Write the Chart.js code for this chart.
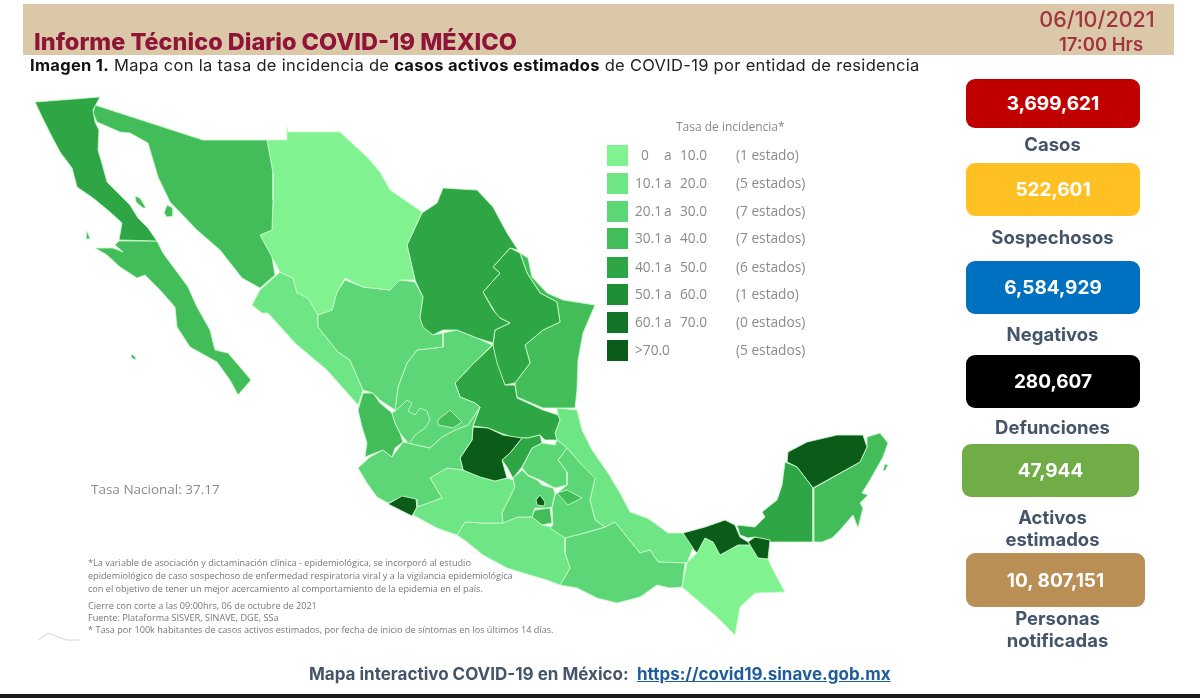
<!DOCTYPE html>
<html lang="es">
<head>
<meta charset="utf-8">
<title>Informe Técnico Diario COVID-19 MÉXICO</title>
<script src="https://cdn.jsdelivr.net/npm/chart.js@4"></script>
<style>
html, body { margin: 0; padding: 0; background: #fff; }
#page { position: relative; width: 1200px; height: 698px; overflow: hidden; font-family: Inter, "Open Sans", sans-serif; }
#page div, #page a { position: absolute; white-space: nowrap; }
#mapWrap { left: 0; top: 0; width: 1200px; height: 698px; filter: blur(0.7px); }
#band { left: 23px; top: 4px; width: 1151px; height: 51px; background: #dbc8a8; }
#title { left: 34px; top: 27px; font-size: 23.5px; font-weight: 800; color: #8f1538; }
#fecha { left: 1037px; top: 6px; width: 120px; text-align: center; font-size: 21.5px; color: #a2343f; font-weight: 500; }
#hora { left: 1039px; top: 33px; width: 124px; text-align: center; font-size: 18.5px; color: #a2343f; font-weight: 600; }
#sub { left: 30px; top: 55px; font-size: 16.5px; letter-spacing: 0.3px; color: #222; }
#sub b { color: #111; }
.card { border-radius: 9px; color: #fff; font-weight: 700; font-size: 19px; text-align: center; display: flex; align-items: center; justify-content: center; }
.cardLabel { font-weight: 700; font-size: 18.5px; line-height: 22px; color: #44546a; text-align: center; }
.leg { font-family: "Open Sans", sans-serif; font-size: 13.7px; color: #8a8a8a; filter: blur(0.4px); }
.sw { width: 21px; height: 21px; filter: blur(0.4px); }
.note { font-family: "Open Sans", sans-serif; font-size: 9.15px; color: #777; filter: blur(0.4px); }
#tasa { left: 91px; top: 480px; font-family: "Open Sans", sans-serif; font-size: 13.5px; color: #8a8a8a; filter: blur(0.4px); }
#pie { left: 309px; top: 664px; font-size: 17px; font-weight: 700; color: #44546a; }
#link { left: 637px; top: 664px; font-size: 17px; font-weight: 700; color: #1f5c99; }
#fondo { left: 0; top: 694px; width: 1200px; height: 4px; background: #1a1a1a; }
</style>
</head>
<body>
<div id="page">
  <div id="band"></div>
  <div id="mapWrap"><canvas id="mapa" width="1200" height="698"></canvas></div>
  <div id="title">Informe Técnico Diario COVID-19 MÉXICO</div>
  <div id="fecha">06/10/2021</div>
  <div id="hora">17:00 Hrs</div>
  <div id="sub"><b>Imagen 1.</b> Mapa con la tasa de incidencia de <b>casos activos estimados</b> de COVID-19 por entidad de residencia</div>
  <div id="tasa">Tasa Nacional: 37.17</div>
  <div id="pie">Mapa interactivo COVID-19 en México:</div>
  <a id="link" href="https://covid19.sinave.gob.mx">https://covid19.sinave.gob.mx</a>
  <div id="fondo"></div>
</div>
<script>
// Legend
const legendTitle = 'Tasa de incidencia*';
const rangeFrom = ['0', '10.1', '20.1', '30.1', '40.1', '50.1', '60.1', '>70.0'];
const rangeTo = ['10.0', '20.0', '30.0', '40.0', '50.0', '60.0', '70.0', ''];
const stateCounts = ['(1 estado)', '(5 estados)', '(7 estados)', '(7 estados)', '(6 estados)', '(1 estado)', '(0 estados)', '(5 estados)'];
const rangeColors = ['#80f290', '#6ee686', '#5cd676', '#42bd5a', '#2fa645', '#1f8f35', '#137425', '#0a5c18'];

// KPI cards
const cardValues = ['3,699,621', '522,601', '6,584,929', '280,607', '47,944', '10, 807,151'];
const cardLabels = ['Casos', 'Sospechosos', 'Negativos', 'Defunciones', 'Activos<br>estimados', 'Personas<br>notificadas'];

const footnotes = [
    '*La variable de asociación y dictaminación clínica - epidemiológica, se incorporó al estudio',
    'epidemiológico de caso sospechoso de enfermedad respiratoria viral y a la vigilancia epidemiológica',
    'con el objetivo de tener un mejor acercamiento al comportamiento de la epidemia en el país.',
    'Cierre con corte a las 09:00hrs, 06 de octubre de 2021',
    'Fuente: Plataforma SISVER, SINAVE, DGE, SSa',
    '* Tasa por 100k habitantes de casos activos estimados, por fecha de inicio de síntomas en los últimos 14 días.'
];

// State outlines
const bajaCalifornia = [[35,102],[100,97],[93,110],[95,122],[99,130],[98,150],[103,167],[107,182],[118,193],[130,205],[138,218],[148,228],[157,241],[119,240],[122,223],[110,212],[93,198],[77,187],[72,168],[60,152],[50,133],[42,117]];
const bajaCaliforniaSur = [[119,241],[157,241],[163,253],[177,272],[188,287],[197,307],[210,330],[215,350],[228,353],[240,367],[251,380],[238,395],[230,380],[217,362],[190,347],[177,327],[175,307],[160,290],[145,275],[137,278],[120,267],[107,255],[95,248],[113,248],[123,252],[115,245]];
const sonora = [[95,105],[203,140],[267,140],[273,173],[273,200],[272,230],[260,235],[272,257],[275,275],[260,288],[242,278],[220,250],[197,230],[170,202],[158,177],[148,143],[130,133],[120,132],[97,122],[93,113]];
const chihuahua = [[287,127],[288,132],[340,132],[367,157],[380,172],[390,190],[422,212],[407,245],[415,280],[400,280],[390,290],[363,287],[345,278],[337,292],[332,310],[318,315],[308,298],[297,293],[293,278],[280,272],[272,257],[260,235],[272,230],[273,200],[273,173],[267,140],[287,140]];
const coahuila = [[443,188],[477,190],[493,207],[507,233],[518,250],[510,248],[493,267],[500,273],[483,292],[493,310],[500,318],[510,323],[495,330],[493,343],[477,338],[457,330],[443,330],[433,335],[423,327],[420,318],[423,297],[415,280],[407,245],[422,213],[437,203]];
const nuevoLeon = [[510,248],[520,253],[527,273],[540,293],[557,302],[560,322],[543,330],[525,345],[530,363],[515,383],[505,385],[497,363],[493,345],[495,330],[510,323],[498,317],[483,292],[500,273],[493,267]];
const tamaulipas = [[520,253],[528,258],[532,277],[547,293],[563,300],[595,305],[583,333],[578,360],[577,390],[575,408],[557,408],[543,408],[517,397],[515,383],[530,363],[525,345],[543,330],[560,322],[557,302],[540,293],[527,273]];
const durango = [[345,280],[363,287],[390,290],[400,280],[415,282],[423,297],[420,318],[433,335],[443,333],[443,347],[417,350],[407,363],[398,387],[395,410],[380,400],[373,393],[363,390],[350,360],[338,352],[318,327],[318,315],[332,310],[337,292]];
const sinaloa = [[280,272],[293,278],[297,293],[308,298],[318,315],[318,327],[338,352],[350,360],[363,390],[358,405],[327,370],[295,343],[268,313],[262,313],[252,305],[260,290]];
const zacatecas = [[443,333],[457,330],[477,338],[492,345],[472,365],[455,383],[460,397],[475,403],[480,407],[468,425],[455,430],[442,437],[430,448],[408,443],[400,433],[395,423],[392,413],[395,410],[398,387],[407,363],[417,350],[443,347]];
const aguascalientes = [[450,410],[462,422],[453,428],[438,425],[438,420]];
const nayarit = [[363,393],[373,393],[380,403],[392,413],[395,423],[400,433],[403,442],[395,448],[392,457],[383,450],[370,455],[365,457],[367,443],[362,427],[358,410]];
const jalisco = [[370,457],[383,450],[392,457],[403,442],[408,443],[430,448],[442,437],[455,430],[468,425],[480,407],[473,426],[472,440],[460,458],[463,470],[447,468],[430,478],[442,498],[417,507],[415,500],[402,497],[388,503],[377,497],[367,483],[358,468]];
const colima = [[388,504],[402,496],[416,499],[417,507],[412,516],[400,510]];
const guanajuato = [[473,427],[488,428],[503,435],[522,438],[510,453],[502,460],[507,478],[495,481],[480,477],[463,470],[460,458],[472,440]];
const queretaro = [[522,438],[528,438],[540,435],[542,443],[532,448],[522,467],[513,478],[507,467],[502,460],[510,453]];
const sanLuisPotosi = [[493,345],[505,385],[515,385],[517,398],[543,410],[558,415],[560,420],[555,433],[557,440],[545,440],[540,435],[528,438],[515,438],[503,434],[488,428],[473,426],[480,407],[475,403],[460,397],[455,383],[472,365]];
const hidalgo = [[542,443],[555,445],[557,440],[567,448],[558,460],[567,472],[567,485],[555,488],[540,480],[528,475],[522,468],[532,448]];
const estadoMexico = [[522,470],[528,476],[537,480],[542,485],[553,488],[555,493],[552,507],[547,508],[535,508],[532,517],[518,517],[503,523],[502,513],[515,487],[513,478]];
const cdmx = [[536,500],[540,495],[545,502],[544,506],[537,505]];
const morelos = [[535,510],[550,508],[552,523],[542,525],[532,517]];
const tlaxcala = [[557,493],[567,490],[582,498],[568,505]];
const puebla = [[567,448],[582,465],[595,478],[590,500],[595,520],[605,527],[588,532],[565,538],[550,528],[553,525],[552,508],[555,495],[567,485],[567,472],[558,460]];
const michoacan = [[430,478],[447,468],[463,470],[480,477],[495,481],[507,478],[513,480],[515,487],[502,513],[503,523],[483,523],[465,522],[457,535],[437,528],[413,515],[417,507],[442,498]];
const guerrero = [[457,535],[465,522],[483,523],[503,523],[518,517],[532,517],[542,525],[553,527],[565,538],[565,553],[570,568],[560,585],[547,580],[530,575],[507,568],[483,555],[467,542]];
const oaxaca = [[565,538],[588,532],[605,527],[615,522],[627,537],[640,553],[650,550],[658,562],[685,563],[682,587],[670,588],[657,585],[640,597],[617,603],[597,598],[577,588],[560,585],[570,568],[565,553]];
const veracruz = [[557,408],[577,410],[582,430],[592,450],[608,473],[620,493],[630,512],[647,518],[653,522],[668,533],[683,533],[693,548],[687,563],[658,562],[650,550],[640,553],[627,537],[615,522],[605,527],[595,520],[590,500],[595,478],[582,465],[567,448],[557,440],[555,433],[560,420],[558,415]];
const tabasco = [[683,533],[705,527],[725,520],[735,525],[740,537],[748,542],[750,545],[738,545],[720,555],[713,542],[705,538],[697,553],[687,542]];
const tabascoEste = [[748,542],[755,537],[770,540],[768,559],[758,558],[750,545]];
const campeche = [[785,462],[797,467],[813,488],[813,542],[770,542],[755,537],[748,538],[740,535],[737,525],[755,527],[765,517],[762,512],[777,500],[782,485]];
const yucatan = [[788,452],[807,442],[837,435],[863,435],[867,447],[860,462],[813,488],[797,467],[787,462]];
const quintanaRoo = [[867,437],[880,433],[888,443],[883,457],[870,480],[862,493],[868,495],[860,503],[863,508],[858,528],[853,515],[840,530],[832,538],[822,542],[814,542],[814,488],[860,462],[867,447]];
const chiapas = [[697,553],[705,538],[713,542],[720,555],[738,545],[750,545],[758,558],[768,559],[773,570],[785,592],[755,593],[740,607],[735,635],[717,617],[682,587],[687,563]];
// islands
const islaAngel = [[135,196],[140,198],[146,208],[143,208],[136,202]];
const islaTiburon = [[167,205],[173,208],[173,216],[167,217],[164,213]];
const islaCedros = [[87,231],[89,236],[90,239],[86,239]];
const islasMarias = [[132,354],[136,358],[135,360],[131,357]];
const cozumel = [[885,464],[888,465],[885,471],[883,470]];
// inner borders and the small logo, lines only
const jaliscoNorte = [[393,413],[403,404],[407,400],[412,403],[408,411],[415,415],[420,408],[427,411],[430,420],[425,428],[415,435],[410,443]];
const logoLine = [[38,640],[48,633],[58,637],[66,640],[80,640]];

// [outline, index into rangeColors]
// Chart.js paints the first dataset last, so the small enclosed states go first
const states = [
    [aguascalientes, 3], [cdmx, 7], [morelos, 3], [tlaxcala, 3], [colima, 7],
    [bajaCalifornia, 4], [bajaCaliforniaSur, 3], [sonora, 3], [chihuahua, 0], [coahuila, 4], [nuevoLeon, 4],
    [tamaulipas, 3], [durango, 2], [sinaloa, 1], [zacatecas, 2], [nayarit, 3], [jalisco, 2],
    [guanajuato, 7], [queretaro, 4], [sanLuisPotosi, 4], [hidalgo, 2], [estadoMexico, 2],
    [puebla, 2], [michoacan, 1], [guerrero, 1], [oaxaca, 2], [veracruz, 1],
    [tabasco, 7], [tabascoEste, 7], [campeche, 4], [yucatan, 7], [quintanaRoo, 3], [chiapas, 0],
    [islaAngel, 3], [islaTiburon, 3], [islaCedros, 3], [islasMarias, 3], [cozumel, 3]
];

function toPoints(outline) {
    return outline.map(function(p) { return { x: p[0], y: p[1] }; });
}

function initializeMap() {
    const datasets = [{
        data: toPoints(jaliscoNorte),
        showLine: true,
        borderColor: 'rgba(205,250,205,0.85)',
        borderWidth: 1,
        pointRadius: 0
    }];
    states.forEach(function(s) {
        datasets.push({
            data: toPoints(s[0].concat([s[0][0]])),
            showLine: true,
            fill: 'shape',
            backgroundColor: rangeColors[s[1]],
            borderColor: 'rgba(205,250,205,0.85)',
            borderWidth: 1,
            pointRadius: 0,
            tension: 0
        });
    });
    datasets.push({
        data: toPoints(logoLine),
        showLine: true,
        borderColor: '#d4d4d4',
        borderWidth: 1,
        pointRadius: 0
    });

    new Chart(document.getElementById('mapa'), {
        type: 'scatter',
        data: { datasets: datasets },
        options: {
            responsive: false,
            animation: false,
            events: [],
            layout: { padding: 0 },
            scales: {
                x: { type: 'linear', min: 0, max: 1200, display: false },
                y: { type: 'linear', min: 0, max: 698, reverse: true, display: false }
            },
            plugins: { legend: { display: false }, tooltip: { enabled: false } }
        }
    });
}

function addDiv(cls, css, html) {
    const d = document.createElement('div');
    d.className = cls;
    d.style.cssText = css;
    d.innerHTML = html;
    document.getElementById('page').appendChild(d);
}

function buildLegend() {
    const rowTops = [155, 183, 211, 238, 267, 294, 322, 350];
    addDiv('leg', 'left:676px;top:118px;font-size:12px;', legendTitle);
    rangeFrom.forEach(function(from, i) {
        const y = rowTops[i];
        addDiv('sw', 'left:607px;top:' + (y - 10) + 'px;background:' + rangeColors[i] + ';', '');
        addDiv('leg', 'left:' + (i === 0 ? 641 : 635) + 'px;top:' + (y - 10) + 'px;', from.replace('>', '&gt;'));
        if (rangeTo[i] !== '') {
            addDiv('leg', 'left:664px;top:' + (y - 10) + 'px;', 'a');
            addDiv('leg', 'left:680px;top:' + (y - 10) + 'px;', rangeTo[i]);
        }
        addDiv('leg', 'left:736px;top:' + (y - 10) + 'px;', stateCounts[i]);
    });
}

function buildCards() {
    const left = [966, 966, 966, 966, 962, 966];
    const width = [174, 174, 174, 174, 177, 179];
    const top = [79, 163, 261, 355, 444, 553];
    const height = [49, 53, 53, 53, 53, 54];
    const colors = ['#c00000', '#ffc024', '#0070c0', '#000000', '#70ad47', '#b98f55'];
    const labelTop = [133, 226, 323, 416, 506, 607];
    cardValues.forEach(function(v, i) {
        addDiv('card', 'left:' + left[i] + 'px;top:' + top[i] + 'px;width:' + width[i] + 'px;height:' + height[i] + 'px;background:' + colors[i] + ';', v);
        addDiv('cardLabel', 'left:' + (i === 5 ? 965 : 960) + 'px;top:' + labelTop[i] + 'px;width:185px;', cardLabels[i]);
    });
}

function buildNotes() {
    const tops = [556, 569, 582, 599, 611, 623];
    footnotes.forEach(function(t, i) {
        addDiv('note', 'left:88px;top:' + tops[i] + 'px;', t);
    });
}

document.addEventListener('DOMContentLoaded', function() {
    initializeMap();
    buildLegend();
    buildCards();
    buildNotes();
});
</script>
</body>
</html>
